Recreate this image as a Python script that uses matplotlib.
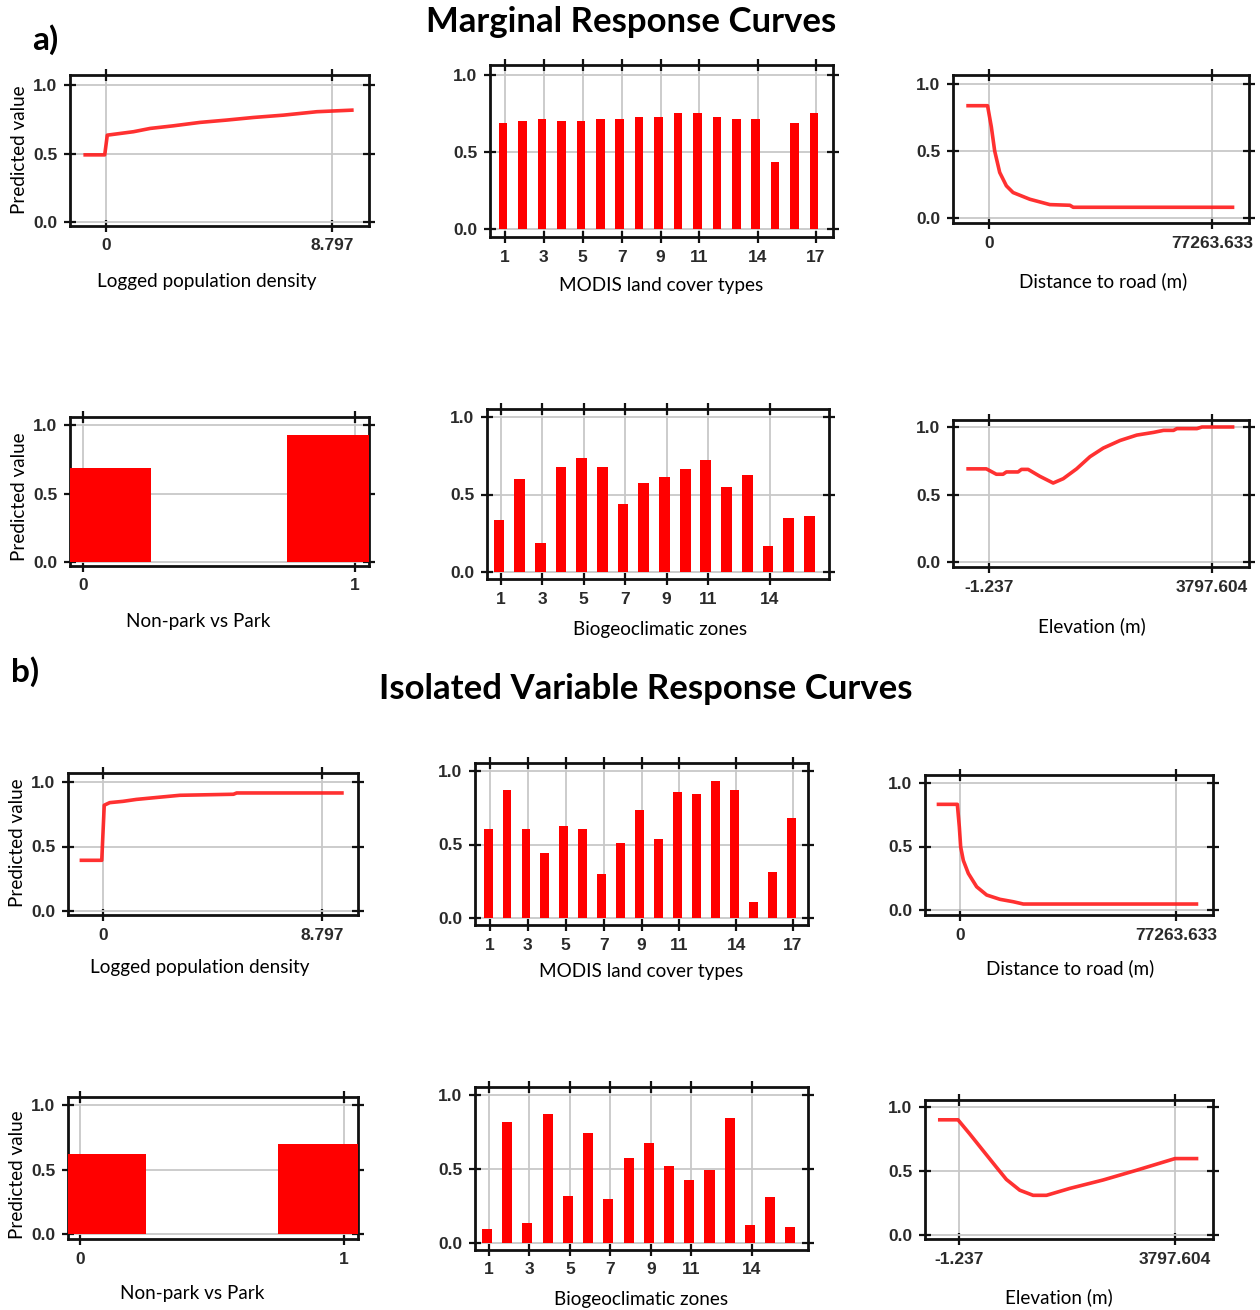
import numpy as np
import matplotlib
matplotlib.use('Agg')
import matplotlib.pyplot as plt

W, H = 1260, 1310

# ---- data ----
# a) marginal response curves
pop_a_x = [-0.88, -0.05, 0.05, 0.5, 1.07, 1.72, 2.62, 3.66, 4.7, 5.74, 6.91, 8.21, 9.64]
pop_a_y = [0.49, 0.49, 0.634, 0.645, 0.659, 0.683, 0.702, 0.727, 0.744, 0.763, 0.78, 0.805, 0.817]
modis_a = [0.686, 0.70, 0.714, 0.70, 0.70, 0.714, 0.714, 0.727, 0.727, 0.755,
           0.755, 0.727, 0.714, 0.714, 0.433, 0.686, 0.755]
road_a_x = [-7875, -500, 810, 1970, 3706, 6022, 8340, 14130, 21080, 28025, 29180, 85000]
road_a_y = [0.838, 0.838, 0.68, 0.50, 0.34, 0.24, 0.19, 0.14, 0.10, 0.095, 0.08, 0.08]
park_a = [0.688, 0.927]
bgc_a = [0.338, 0.60, 0.19, 0.68, 0.735, 0.68, 0.44, 0.574, 0.615, 0.667,
         0.72, 0.548, 0.628, 0.166, 0.35, 0.363]
elev_a_x = [-388, -47, 124, 238, 295, 494, 551, 665, 864, 1092, 1263, 1491, 1719,
            1946, 2231, 2516, 2801, 2972, 3142, 3199, 3541, 3626, 4179]
elev_a_y = [0.69, 0.69, 0.65, 0.65, 0.667, 0.667, 0.686, 0.686, 0.635, 0.585, 0.617,
            0.69, 0.78, 0.844, 0.90, 0.94, 0.96, 0.975, 0.975, 0.988, 0.988, 1.0, 1.0]

# b) isolated variable response curves
pop_b_x = [-0.94, -0.05, 0.05, 0.27, 0.8, 1.34, 2.15, 3.09, 5.24, 5.37, 9.67]
pop_b_y = [0.393, 0.393, 0.82, 0.84, 0.85, 0.865, 0.88, 0.897, 0.905, 0.915, 0.915]
modis_b = [0.604, 0.871, 0.604, 0.441, 0.629, 0.604, 0.296, 0.509, 0.735, 0.536,
           0.857, 0.844, 0.934, 0.871, 0.111, 0.31, 0.683]
road_b_x = [-8344, -954, -238, 238, 1192, 2980, 5960, 9536, 14304, 19072, 22648, 85228]
road_b_y = [0.832, 0.832, 0.654, 0.497, 0.39, 0.288, 0.183, 0.118, 0.084, 0.065, 0.047, 0.047]
park_b = [0.62, 0.698]
bgc_b = [0.097, 0.82, 0.135, 0.874, 0.32, 0.742, 0.297, 0.571, 0.679, 0.517,
         0.427, 0.492, 0.847, 0.124, 0.308, 0.11]
elev_b_x = [-371, -19, 187, 421, 656, 832, 1067, 1302, 1537, 1948, 2535, 3122, 3797, 4208]
elev_b_y = [0.90, 0.90, 0.79, 0.66, 0.53, 0.434, 0.35, 0.31, 0.31, 0.364, 0.43, 0.506, 0.597, 0.597]

modis_cats = list(range(1, 18))
bgc_cats = list(range(1, 17))
modis_ticks = [1, 3, 5, 7, 9, 11, 14, 17]
bgc_ticks = [1, 3, 5, 7, 9, 11, 14]

RED = '#ff1a1a'
TXT = 'Lato'
TICKFONT = 'Liberation Sans'

fig = plt.figure(figsize=(W / 100, H / 100), dpi=100)
fig.patch.set_facecolor('white')


def panel(frame, y1, y0, xr):
    """frame in pixels (l, t, r, b); y1/y0 pixel rows of 1.0 and 0.0;
    xr = ((v1, px1), (v2, px2)) reference x ticks."""
    l, t, r, b = frame
    ax = fig.add_axes([l / W, 1 - b / H, (r - l) / W, (b - t) / H])
    sy = (y0 - y1)
    ax.set_ylim((y0 - b) / sy, (y0 - t) / sy)
    (v1, p1), (v2, p2) = xr
    sx = (p2 - p1) / (v2 - v1)
    ax.set_xlim(v1 + (l - p1) / sx, v1 + (r - p1) / sx)
    ax.set_yticks([0.0, 0.5, 1.0])
    ax.set_yticklabels(['0.0', '0.5', '1.0'], fontweight='bold', family=TICKFONT)
    for s in ax.spines.values():
        s.set_linewidth(2)
        s.set_color('#111111')
    ax.tick_params(direction='inout', length=8, width=1.6, color='#111111',
                   top=True, right=True, labelsize=12.5, labelcolor='#2a2a2a', pad=5)
    ax.grid(True, color='#c8c8c8', lw=1.3)
    ax.set_axisbelow(True)
    return ax


def set_xt(ax, ticks, labels):
    ax.set_xticks(ticks)
    ax.set_xticklabels(labels, fontweight='bold', family=TICKFONT)


def curve(ax, x, y):
    ax.plot(x, y, color=RED, lw=2.6, alpha=0.9, solid_capstyle='butt')


def cat_bars(ax, cats, vals, width=0.48):
    ax.bar(np.array(cats) - 0.1, vals, width=width, color='#ff0000', zorder=3)


def park_bars(ax, vals):
    ax.bar([0, 1], vals, width=0.5, color='#ff0000', zorder=3)


# ---- a) ----
ax = panel((70, 75, 369, 226), 85, 222, ((0, 106), (8.797, 332)))
set_xt(ax, [0, 8.797], ['0', '8.797'])
curve(ax, pop_a_x, pop_a_y)

ax = panel((490, 65, 833, 237), 75, 229, ((1, 505), (17, 816)))
set_xt(ax, modis_ticks, [str(t) for t in modis_ticks])
cat_bars(ax, modis_cats, modis_a, 0.44)

ax = panel((953, 75, 1249, 223), 84, 218, ((0, 989), (77263.633, 1212)))
set_xt(ax, [0, 77263.633], ['0', '77263.633'])
curve(ax, road_a_x, road_a_y)

ax = panel((70, 417, 369, 566), 425, 562, ((0, 83), (1, 355)))
set_xt(ax, [0, 1], ['0', '1'])
park_bars(ax, park_a)

ax = panel((487, 409, 829, 579), 417, 572, ((1, 501), (14, 770)))
set_xt(ax, bgc_ticks, [str(t) for t in bgc_ticks])
cat_bars(ax, bgc_cats, bgc_a, 0.52)

ax = panel((953, 420, 1249, 567), 427, 562, ((-1.237, 989), (3797.604, 1212)))
set_xt(ax, [-1.237, 3797.604], ['-1.237', '3797.604'])
curve(ax, elev_a_x, elev_a_y)

# ---- b) ----
ax = panel((68, 773, 358, 915), 782, 911, ((0, 103), (8.797, 322)))
set_xt(ax, [0, 8.797], ['0', '8.797'])
curve(ax, pop_b_x, pop_b_y)

ax = panel((475, 763, 808, 925), 771, 918, ((1, 490), (17, 793)))
set_xt(ax, modis_ticks, [str(t) for t in modis_ticks])
cat_bars(ax, modis_cats, modis_b, 0.47)

ax = panel((925, 775, 1213, 915), 783, 910, ((0, 960), (77263.633, 1176)))
set_xt(ax, [0, 77263.633], ['0', '77263.633'])
curve(ax, road_b_x, road_b_y)

ax = panel((68, 1097, 358, 1239), 1105, 1234, ((0, 80), (1, 344)))
set_xt(ax, [0, 1], ['0', '1'])
park_bars(ax, park_b)

ax = panel((475, 1087, 808, 1250), 1095, 1243, ((1, 489), (14, 752)))
set_xt(ax, bgc_ticks, [str(t) for t in bgc_ticks])
cat_bars(ax, bgc_cats, bgc_b, 0.5)

ax = panel((925, 1100, 1213, 1239), 1107, 1235, ((-1.237, 959), (3797.604, 1175)))
set_xt(ax, [-1.237, 3797.604], ['-1.237', '3797.604'])
curve(ax, elev_b_x, elev_b_y)


# ---- text ----
def ftext(x, y, s, **kw):
    kw.setdefault('family', TXT)
    kw.setdefault('fontsize', 13.6)
    fig.text(x / W, 1 - y / H, s, ha='center', va='center', **kw)


ftext(631, 22, 'Marginal Response Curves', fontsize=25, fontweight='bold')
ftext(45, 40, 'a)', fontsize=24, fontweight='bold')
ftext(25, 672, 'b)', fontsize=24, fontweight='bold')
ftext(646, 689, 'Isolated Variable Response Curves', fontsize=25, fontweight='bold')

xlabels = [
    (207, 281, 'Logged population density'), (661, 285, 'MODIS land cover types'),
    (1103, 281, 'Distance to road (m)'),
    (198, 622, 'Non-park vs Park'), (660, 630, 'Biogeoclimatic zones'),
    (1092, 626, 'Elevation (m)'),
    (200, 968, 'Logged population density'), (641, 972, 'MODIS land cover types'),
    (1070, 968, 'Distance to road (m)'),
    (192, 1293, 'Non-park vs Park'), (641, 1300, 'Biogeoclimatic zones'),
    (1059, 1297, 'Elevation (m)'),
]
for x, y, s in xlabels:
    ftext(x, y, s)

for x, y in [(20, 150), (20, 497), (18, 843), (18, 1175)]:
    ftext(x, y, 'Predicted value', rotation=90)

fig.savefig('out.png', dpi=100, facecolor='white')
